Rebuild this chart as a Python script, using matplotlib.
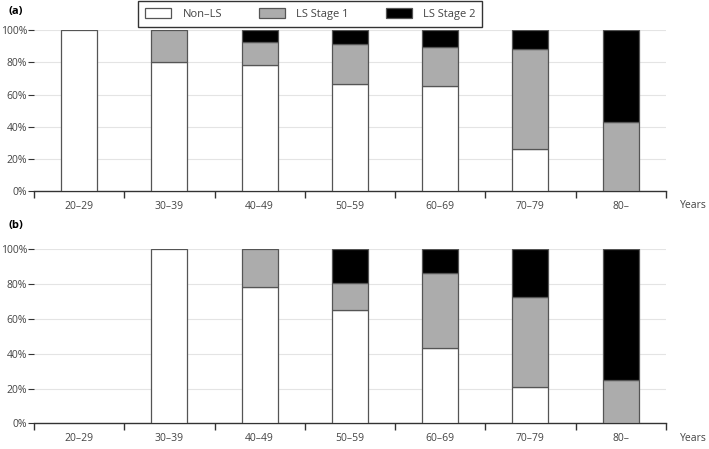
import numpy as np
import matplotlib
matplotlib.use("Agg")
import matplotlib.pyplot as plt
from matplotlib.patches import Patch

plt.rcParams['font.family'] = ['Open Sans', 'DejaVu Sans']

age_groups = ['20\u201329', '30\u201339', '40\u201349', '50\u201359', '60\u201369', '70\u201379', '80\u2013']

# panel (a)
a_non_ls = [100, 80, 78.6, 66.7, 65.6, 25.8, 0]
a_stage1 = [0, 20, 14.3, 25.0, 24.2, 62.4, 42.9]
a_stage2 = [0, 0, 7.1, 8.3, 10.2, 11.8, 57.1]

# panel (b)
b_non_ls = [0, 100, 78.6, 65.3, 43.1, 21.0, 0]
b_stage1 = [0, 0, 21.4, 15.2, 43.3, 51.4, 25.0]
b_stage2 = [0, 0, 0, 19.5, 13.6, 27.6, 75.0]

series_colors = ['white', '#acacac', 'black']
series_names = ['Non\u2013LS', 'LS Stage 1', 'LS Stage 2']
text_color = '#444444'


def draw_panel(ax, non_ls, stage1, stage2):
    x = np.arange(len(age_groups)) + 0.5
    bottom = np.zeros(len(age_groups))
    for vals, col in zip([non_ls, stage1, stage2], series_colors):
        vals = np.array(vals)
        mask = vals > 0
        ax.bar(x[mask], vals[mask], bottom=bottom[mask], width=0.4,
               color=col, edgecolor='#555555', linewidth=0.9, zorder=3)
        bottom += vals
    ax.set_xlim(0, len(age_groups))
    ax.set_ylim(0, 100)
    ax.set_yticks(np.arange(0, 101, 20))
    ax.set_yticklabels([f'{v}%' for v in range(0, 101, 20)])
    ax.yaxis.grid(True, color='#e4e4e4', linewidth=0.8, zorder=0)
    ax.set_xticks(np.arange(0, len(age_groups) + 1))
    ax.set_xticklabels([])
    ax.set_xticks(x, minor=True)
    ax.set_xticklabels(age_groups, minor=True)
    ax.tick_params(axis='x', which='major', direction='out', length=5,
                   width=1, color='#333333')
    ax.tick_params(axis='x', which='minor', length=0, pad=7,
                   labelsize=7.5, labelcolor=text_color)
    ax.tick_params(axis='y', length=4, width=0.8, color='#333333',
                   labelsize=7.5, labelcolor=text_color, pad=1)
    for s in ['top', 'right', 'left']:
        ax.spines[s].set_visible(False)
    ax.spines['bottom'].set_color('#333333')
    ax.spines['bottom'].set_linewidth(1)
    ax.text(1.022, -0.055, 'Years', transform=ax.transAxes, fontsize=7.5,
            color=text_color, ha='left', va='top')


fig = plt.figure(figsize=(7.09, 4.49), dpi=100)
ax_a = fig.add_axes([0.048, 0.575, 0.891, 0.3575])
ax_b = fig.add_axes([0.048, 0.057, 0.891, 0.3876])

draw_panel(ax_a, a_non_ls, a_stage1, a_stage2)
draw_panel(ax_b, b_non_ls, b_stage1, b_stage2)

fig.text(0.012, 0.975, '(a)', fontsize=8, fontweight='bold', va='center')
fig.text(0.012, 0.497, '(b)', fontsize=8, fontweight='bold', va='center')

handles = [Patch(facecolor=c, edgecolor='#555555', linewidth=0.9) for c in series_colors]
leg = fig.legend(handles, series_names, loc='upper left',
                 bbox_to_anchor=(0.193, 1.0), ncol=3, frameon=True,
                 fancybox=False, edgecolor='black', fontsize=8,
                 handlelength=2.4, handleheight=1.1, columnspacing=3.3,
                 borderpad=0.6, handletextpad=1.0, borderaxespad=0.1)
for t in leg.get_texts():
    t.set_color(text_color)
leg.get_frame().set_linewidth(1)

fig.savefig('out.png', dpi=100)
